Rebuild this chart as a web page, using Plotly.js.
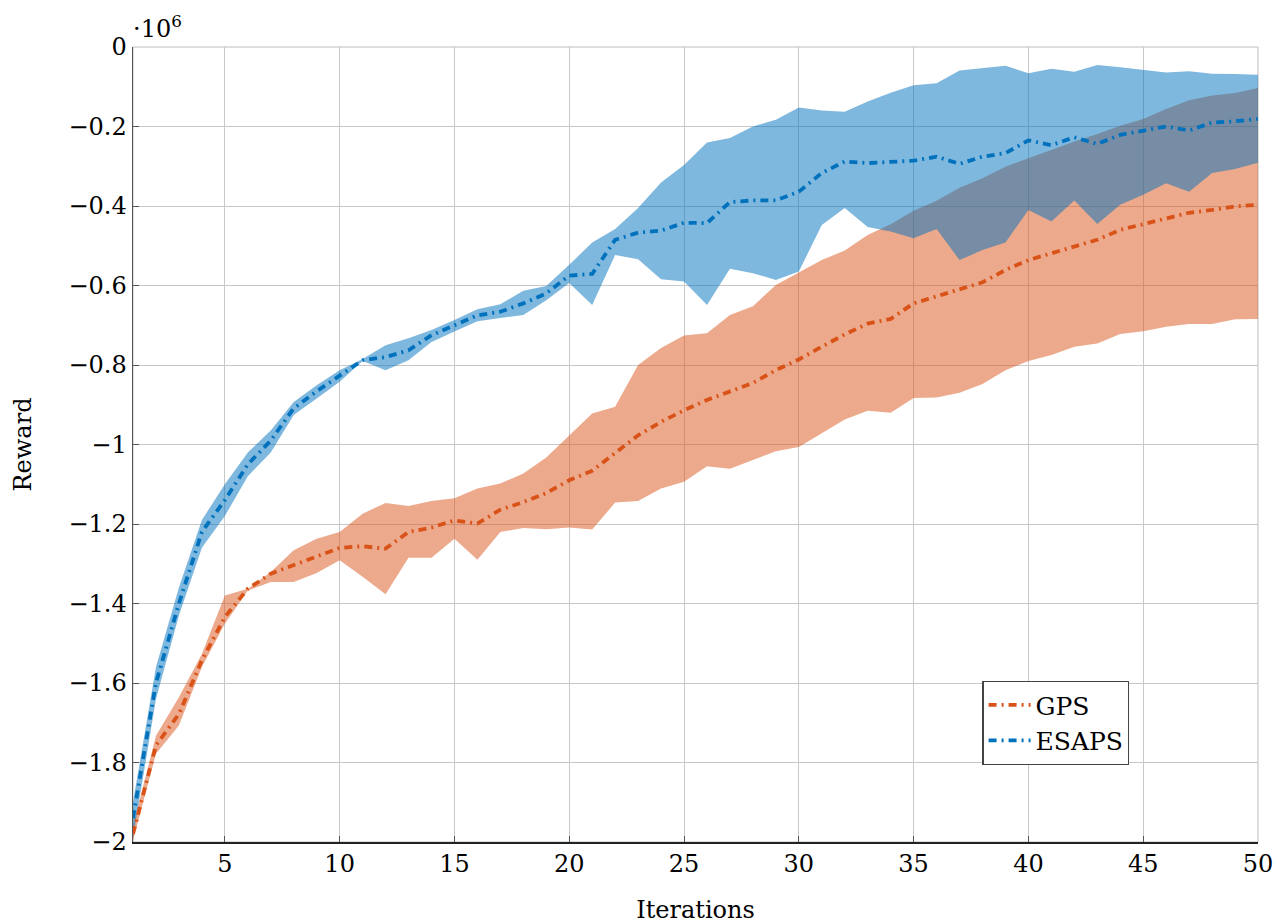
<!DOCTYPE html>
<html>
<head>
<meta charset="utf-8">
<script src="https://cdn.plot.ly/plotly-3.0.1.min.js"></script>
<style>html,body{margin:0;padding:0;background:#fff;}#chart{width:1284px;height:924px;}</style>
</head>
<body>
<div id="chart"></div>
<script>
// Values are in units of 10^6 (reward)
const iterations = [1,2,3,4,5,6,7,8,9,10,11,12,13,14,15,16,17,18,19,20,21,22,23,24,25,26,27,28,29,30,31,32,33,34,35,36,37,38,39,40,41,42,43,44,45,46,47,48,49,50];

const gpsMean = [-1.98,-1.757,-1.678,-1.543,-1.434,-1.363,-1.325,-1.304,-1.283,-1.26,-1.256,-1.262,-1.22,-1.209,-1.191,-1.199,-1.164,-1.145,-1.122,-1.09,-1.066,-1.023,-0.977,-0.943,-0.914,-0.888,-0.867,-0.845,-0.813,-0.786,-0.754,-0.723,-0.696,-0.684,-0.645,-0.628,-0.611,-0.592,-0.561,-0.536,-0.519,-0.501,-0.485,-0.46,-0.445,-0.431,-0.417,-0.41,-0.401,-0.397];
const gpsUpper = [-1.96,-1.733,-1.636,-1.527,-1.38,-1.363,-1.321,-1.266,-1.237,-1.22,-1.174,-1.147,-1.155,-1.142,-1.135,-1.111,-1.098,-1.073,-1.033,-0.977,-0.922,-0.905,-0.80,-0.757,-0.726,-0.72,-0.674,-0.652,-0.599,-0.567,-0.536,-0.512,-0.473,-0.446,-0.412,-0.387,-0.354,-0.33,-0.301,-0.28,-0.259,-0.238,-0.219,-0.198,-0.181,-0.156,-0.134,-0.122,-0.116,-0.103];
const gpsLower = [-1.996,-1.778,-1.707,-1.56,-1.451,-1.367,-1.346,-1.346,-1.323,-1.291,-1.333,-1.377,-1.285,-1.285,-1.237,-1.29,-1.22,-1.21,-1.213,-1.209,-1.214,-1.146,-1.142,-1.111,-1.094,-1.055,-1.061,-1.04,-1.017,-1.006,-0.972,-0.937,-0.915,-0.92,-0.883,-0.882,-0.87,-0.848,-0.813,-0.79,-0.775,-0.754,-0.746,-0.722,-0.715,-0.704,-0.697,-0.697,-0.685,-0.684];

const esapsMean = [-1.94,-1.60,-1.40,-1.22,-1.14,-1.05,-0.99,-0.909,-0.866,-0.827,-0.788,-0.78,-0.763,-0.725,-0.70,-0.675,-0.666,-0.645,-0.62,-0.575,-0.571,-0.485,-0.467,-0.462,-0.442,-0.443,-0.39,-0.386,-0.386,-0.364,-0.317,-0.288,-0.292,-0.289,-0.286,-0.276,-0.294,-0.276,-0.267,-0.235,-0.247,-0.227,-0.244,-0.221,-0.21,-0.2,-0.21,-0.19,-0.187,-0.181];
const esapsUpper = [-1.90,-1.56,-1.36,-1.19,-1.10,-1.02,-0.965,-0.893,-0.851,-0.813,-0.785,-0.75,-0.733,-0.712,-0.687,-0.66,-0.647,-0.613,-0.601,-0.548,-0.492,-0.458,-0.405,-0.341,-0.297,-0.24,-0.229,-0.2,-0.183,-0.152,-0.16,-0.163,-0.137,-0.115,-0.096,-0.091,-0.059,-0.053,-0.047,-0.066,-0.055,-0.062,-0.045,-0.051,-0.057,-0.064,-0.061,-0.067,-0.068,-0.07];
const esapsLower = [-1.99,-1.64,-1.43,-1.26,-1.18,-1.08,-1.02,-0.926,-0.884,-0.842,-0.79,-0.813,-0.788,-0.742,-0.716,-0.69,-0.682,-0.674,-0.637,-0.594,-0.649,-0.523,-0.534,-0.584,-0.59,-0.649,-0.558,-0.569,-0.586,-0.565,-0.448,-0.405,-0.453,-0.464,-0.481,-0.458,-0.536,-0.511,-0.492,-0.41,-0.439,-0.386,-0.445,-0.397,-0.372,-0.343,-0.364,-0.317,-0.307,-0.291];

const seriesNames = ['GPS', 'ESAPS'];
const xTickVals = [5,10,15,20,25,30,35,40,45,50];
const yTickVals = [0,-0.2,-0.4,-0.6,-0.8,-1,-1.2,-1.4,-1.6,-1.8,-2];
const yTickText = ['0','\u22120.2','\u22120.4','\u22120.6','\u22120.8','\u22121','\u22121.2','\u22121.4','\u22121.6','\u22121.8','\u22122'];

const orange = '#D95319';
const blue = '#0072BD';
const dashPattern = '8px,5px,2px,5px';
const FONT = 'DejaVu Serif, Liberation Serif, serif';
const FS = 24;

const traces = [
  {x: iterations, y: gpsLower, mode: 'lines', line: {width: 0, color: orange}, showlegend: false, hoverinfo: 'skip'},
  {x: iterations, y: gpsUpper, mode: 'lines', line: {width: 0, color: orange}, fill: 'tonexty', fillcolor: 'rgba(217,83,25,0.5)', showlegend: false, hoverinfo: 'skip'},
  {x: iterations, y: esapsLower, mode: 'lines', line: {width: 0, color: blue}, showlegend: false, hoverinfo: 'skip'},
  {x: iterations, y: esapsUpper, mode: 'lines', line: {width: 0, color: blue}, fill: 'tonexty', fillcolor: 'rgba(0,114,189,0.5)', showlegend: false, hoverinfo: 'skip'},
  {x: iterations, y: gpsMean, mode: 'lines', name: seriesNames[0], line: {width: 3.8, color: orange, dash: dashPattern}},
  {x: iterations, y: esapsMean, mode: 'lines', name: seriesNames[1], line: {width: 3.8, color: blue, dash: dashPattern}}
];

const layout = {
  width: 1284, height: 924,
  margin: {l: 133, r: 26, t: 47, b: 82},
  paper_bgcolor: '#fff', plot_bgcolor: '#fff',
  font: {family: FONT, size: FS, color: '#000'},
  xaxis: {
    range: [1, 50], tickvals: xTickVals, ticks: 'inside', ticklen: 6, tickcolor: '#555',
    showgrid: true, gridcolor: '#c8c8c8', gridwidth: 1, zeroline: false,
    showline: true, linecolor: '#222', linewidth: 1.5,
    title: {text: 'Iterations', font: {family: FONT, size: FS}, standoff: 26},
    tickfont: {family: FONT, size: FS}
  },
  yaxis: {
    range: [-2, 0], tickvals: yTickVals, ticktext: yTickText, ticks: 'inside', ticklen: 6, tickcolor: '#555',
    showgrid: true, gridcolor: '#c8c8c8', gridwidth: 1, zeroline: false,
    showline: true, linecolor: '#555', linewidth: 1.5,
    title: {text: 'Reward', font: {family: FONT, size: FS}, standoff: 30},
    tickfont: {family: FONT, size: FS}
  },
  legend: {
    x: 0.755, y: 0.2025, xanchor: 'left', yanchor: 'top', traceorder: 'normal',
    bgcolor: '#fff', bordercolor: '#444', borderwidth: 1.2, itemwidth: 42,
    font: {family: FONT, size: 25}, tracegroupgap: 0
  },
  annotations: [{
    xref: 'paper', yref: 'paper', x: 0, y: 1, xanchor: 'left', yanchor: 'bottom', yshift: 2, xshift: -2,
    text: '\u00b710<sup>6</sup>', showarrow: false, font: {family: FONT, size: FS}
  }],
  shapes: [{type: 'rect', xref: 'paper', yref: 'paper', x0: 0, x1: 1, y0: 0, y1: 1, line: {color: '#bdbdbd', width: 1}, layer: 'below'}]
};

Plotly.newPlot('chart', traces, layout, {displayModeBar: false, staticPlot: true});
</script>
</body>
</html>
